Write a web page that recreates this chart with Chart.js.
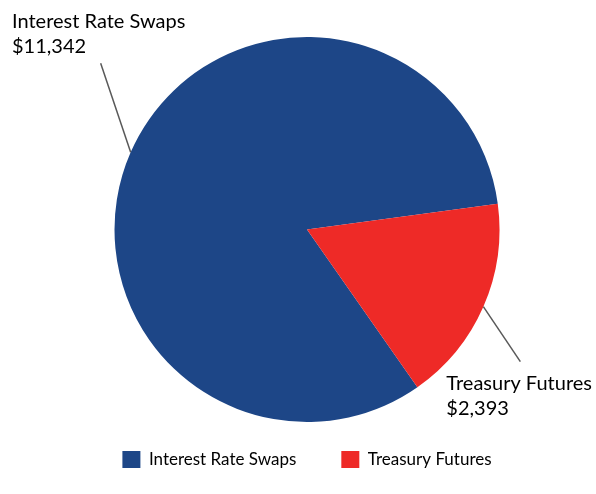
<!DOCTYPE html>
<html>
<head>
<meta charset="utf-8">
<script src="https://cdn.jsdelivr.net/npm/chart.js@4/dist/chart.umd.min.js"></script>
<style>
  html, body { margin: 0; padding: 0; background: #fff; }
  #wrap { width: 596px; height: 494px; }
</style>
</head>
<body>
<div id="wrap"><canvas id="pie-chart"></canvas></div>
<script>
// 데이터
let categories = ["Interest Rate Swaps", "Treasury Futures"];
let amounts = [11342, 2393];
let colors = ["#1d4687", "#ee2a27"];
let valueLabels = ["$11,342", "$2,393"];

// leader line 끝점 (슬라이스 바깥 중간점 기준 오프셋)
let leaderOffsets = [[-30, -89], [37, 55]];

const FONT = "Lato, 'Open Sans', sans-serif";

const leaderPlugin = {
  id: 'leaderLabels',
  afterLayout(chart) {
    // 범례를 조금 위로
    if (chart.legend) {
      chart.legend.top -= 16;
      chart.legend.bottom -= 16;
    }
  },
  afterDatasetsDraw(chart) {
    const ctx = chart.ctx;
    const meta = chart.getDatasetMeta(0);
    meta.data.forEach(function (arc, i) {
      const mid = (arc.startAngle + arc.endAngle) / 2;
      const sx = arc.x + Math.cos(mid) * arc.outerRadius;
      const sy = arc.y + Math.sin(mid) * arc.outerRadius;
      const ex = sx + leaderOffsets[i][0];
      const ey = sy + leaderOffsets[i][1];
      ctx.save();
      ctx.strokeStyle = "#595959";
      ctx.lineWidth = 1.5;
      ctx.beginPath();
      ctx.moveTo(sx, sy);
      ctx.lineTo(ex, ey);
      ctx.stroke();
      ctx.fillStyle = "#000";
      ctx.font = "20px " + FONT;
      ctx.textBaseline = "alphabetic";
      ctx.textAlign = "left";
      if (i == 0) {
        ctx.fillText(categories[i], 12, 28);
        ctx.fillText(valueLabels[i], 12, 53);
      } else {
        ctx.fillText(categories[i], ex - 74, ey + 28);
        ctx.fillText(valueLabels[i], ex - 74, ey + 53);
      }
      ctx.restore();
    });
  }
};

new Chart(document.getElementById("pie-chart"), {
  type: 'pie',
  data: {
    labels: categories,
    datasets: [{
      data: amounts,
      backgroundColor: colors,
      borderWidth: 0
    }]
  },
  options: {
    responsive: true,
    maintainAspectRatio: false,
    animation: false,
    rotation: 145,
    layout: { padding: { left: 18, top: 37, bottom: 0 } },
    plugins: {
      tooltip: { enabled: false },
      legend: {
        position: 'bottom',
        labels: {
          boxWidth: 18,
          boxHeight: 17,
          padding: 45,
          color: "#000",
          font: { size: 17, family: FONT }
        }
      }
    }
  },
  plugins: [leaderPlugin]
});
</script>
</body>
</html>
